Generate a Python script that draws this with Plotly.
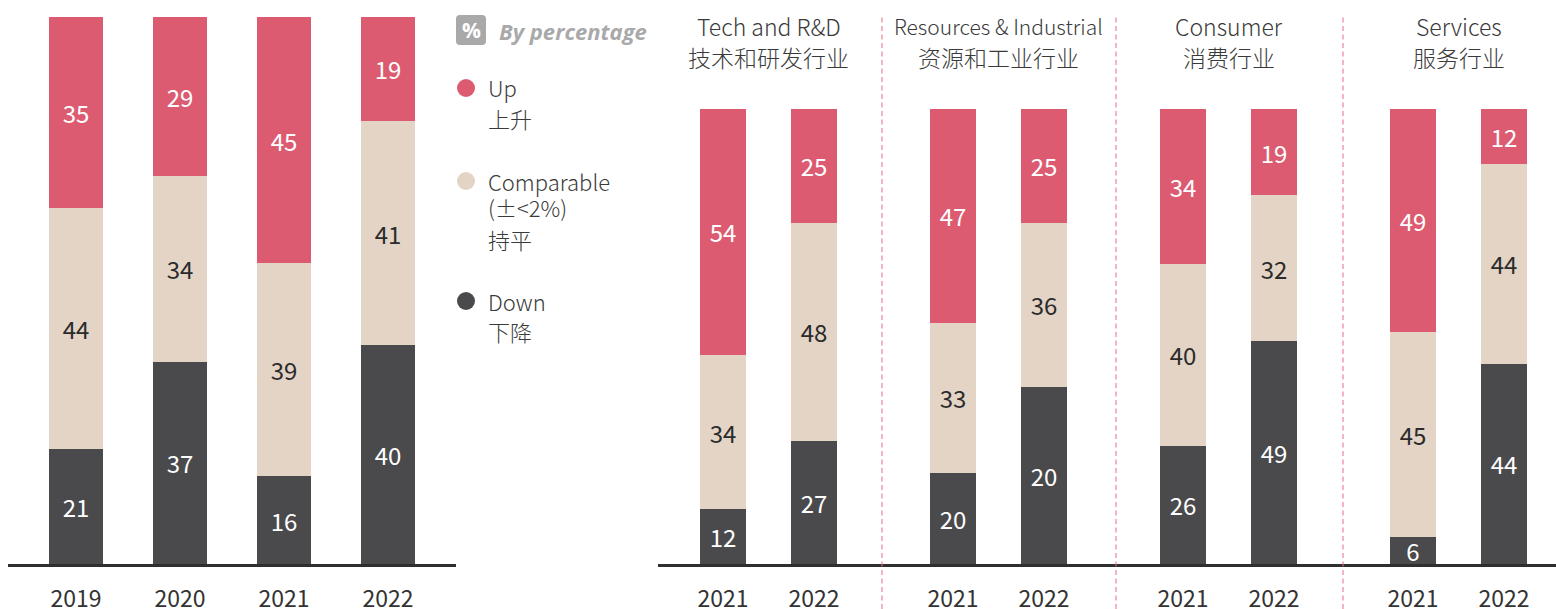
import plotly.graph_objects as go

# ---------------- data ----------------
years_left = ["2019", "2020", "2021", "2022"]
up_left = [35, 29, 45, 19]
comp_left = [44, 34, 39, 41]
down_left = [21, 37, 16, 40]

sectors_en = ["Tech and R&D", "Resources & Industrial", "Consumer", "Services"]
sectors_cn = ["技术和研发行业", "资源和工业行业", "消费行业", "服务行业"]
years_right = ["2021", "2022"]
# per sector: [2021, 2022]
up_right = [[54, 25], [47, 25], [34, 19], [49, 12]]
comp_right = [[34, 48], [33, 36], [40, 32], [45, 44]]
down_right = [[12, 27], [20, 39], [26, 49], [6, 44]]
# labels as printed in the source (Resources 2022 "Down" is printed as 20)
down_right_labels = [["12", "27"], ["20", "20"], ["26", "49"], ["6", "44"]]

legend_items = [("Up", ["上升"]), ("Comparable", ["(±<2%)", "持平"]), ("Down", ["下降"])]

# ---------------- style ----------------
C_UP = "#DC5B70"
C_COMP = "#E3D4C6"
C_DOWN = "#4A4A4C"
FONT = "Noto Sans CJK SC"
W, H = 1556, 609


def px_x(p):
    return p / W


def px_y(p):
    return 1 - p / H


fig = go.Figure()

LBL = 24
# left panel
for vals, col, tcol, name in [(down_left, C_DOWN, "white", "Down"),
                              (comp_left, C_COMP, "#2b2b2b", "Comparable"),
                              (up_left, C_UP, "white", "Up")]:
    fig.add_trace(go.Bar(
        x=years_left, y=vals, marker=dict(color=col, line=dict(width=0)),
        width=0.51, text=[str(v) for v in vals], textposition="inside",
        insidetextanchor="middle", constraintext="none", textangle=0,
        textfont=dict(color=tcol, size=LBL, family=FONT),
        xaxis="x", yaxis="y", showlegend=False, name=name, hoverinfo="skip"))

# right panel: numeric positions
GROUP_STEP = 230
BAR_STEP = 91
xs, tick_text = [], []
for g in range(len(sectors_en)):
    for i in range(len(years_right)):
        xs.append(g * GROUP_STEP + i * BAR_STEP)
        tick_text.append(years_right[i])


def flat(a):
    return [v for row in a for v in row]


for vals, labels, col, tcol, name in [
        (flat(down_right), flat(down_right_labels), C_DOWN, "white", "Down"),
        (flat(comp_right), [str(v) for v in flat(comp_right)], C_COMP, "#2b2b2b", "Comparable"),
        (flat(up_right), [str(v) for v in flat(up_right)], C_UP, "white", "Up")]:
    fig.add_trace(go.Bar(
        x=xs, y=vals, marker=dict(color=col, line=dict(width=0)),
        width=46, text=labels, textposition="inside",
        insidetextanchor="middle", constraintext="none", textangle=0,
        textfont=dict(color=tcol, size=LBL, family=FONT),
        xaxis="x2", yaxis="y2", showlegend=False, name=name, hoverinfo="skip"))

AX_Y = 564
common_x = dict(showgrid=False, zeroline=False, showline=True, linecolor="#2f2f2f",
                linewidth=2.5, ticks="", tickfont=dict(size=23, color="#333", family=FONT),
                ticklabelstandoff=13, fixedrange=True, automargin=False)
common_y = dict(showgrid=False, zeroline=False, showticklabels=False, showline=False,
                range=[0, 100], fixedrange=True)

fig.update_layout(
    width=W, height=H, margin=dict(l=0, r=0, t=0, b=0, pad=0),
    paper_bgcolor="white", plot_bgcolor="white", barmode="stack",
    font=dict(family=FONT, color="#444"),
    xaxis=dict(domain=[px_x(8), px_x(456)], range=[(8 - 76) / 104, (456 - 76) / 104],
               type="category", **common_x),
    yaxis=dict(domain=[px_y(AX_Y), px_y(17)], anchor="x", **common_y),
    xaxis2=dict(domain=[px_x(658), 1.0], range=[658 - 723, 1556 - 723],
                tickvals=xs, ticktext=tick_text, anchor="y2", **common_x),
    yaxis2=dict(domain=[px_y(AX_Y), px_y(109)], anchor="x2", **common_y),
)

shapes = []
annotations = []

# divider lines
for xp in [882, 1116, 1343]:
    shapes.append(dict(type="line", xref="paper", yref="paper",
                       x0=px_x(xp), x1=px_x(xp), y0=0, y1=px_y(15),
                       line=dict(color="#EB6A80", width=1, dash="5px,3.5px")))

HDR = 23
# sector headers
for g in range(len(sectors_en)):
    cx = 723 + g * GROUP_STEP + BAR_STEP / 2
    en_size = 21 if len(sectors_en[g]) > 16 else HDR
    annotations.append(dict(xref="paper", yref="paper", x=px_x(cx), y=px_y(26),
                            text=sectors_en[g], showarrow=False, xanchor="center", yanchor="middle",
                            font=dict(size=en_size, color="#3a3a3a", family=FONT, weight=300)))
    annotations.append(dict(xref="paper", yref="paper", x=px_x(cx), y=px_y(57.5),
                            text=sectors_cn[g], showarrow=False, xanchor="center", yanchor="middle",
                            font=dict(size=HDR, color="#3a3a3a", family=FONT, weight=300)))

# legend header: rounded grey box with "%"
x0, x1, y0, y1, rr = 456, 486, 15, 45, 4
path = (f"M {px_x(x0 + rr)},{px_y(y0)} L {px_x(x1 - rr)},{px_y(y0)} "
        f"Q {px_x(x1)},{px_y(y0)} {px_x(x1)},{px_y(y0 + rr)} "
        f"L {px_x(x1)},{px_y(y1 - rr)} Q {px_x(x1)},{px_y(y1)} {px_x(x1 - rr)},{px_y(y1)} "
        f"L {px_x(x0 + rr)},{px_y(y1)} Q {px_x(x0)},{px_y(y1)} {px_x(x0)},{px_y(y1 - rr)} "
        f"L {px_x(x0)},{px_y(y0 + rr)} Q {px_x(x0)},{px_y(y0)} {px_x(x0 + rr)},{px_y(y0)} Z")
shapes.append(dict(type="path", xref="paper", yref="paper", path=path,
                   fillcolor="#A9A9AA", line=dict(width=0)))
annotations.append(dict(xref="paper", yref="paper", x=px_x(471), y=px_y(30.5),
                        text="<b>%</b>", showarrow=False, xanchor="center", yanchor="middle",
                        font=dict(size=21, color="white", family="Open Sans")))
annotations.append(dict(xref="paper", yref="paper", x=px_x(497), y=px_y(31),
                        text="<b><i>By percentage</i></b>", showarrow=False, xanchor="left",
                        yanchor="middle", font=dict(size=22, color="#A9A9AA", family="Open Sans")))

LEG = 22
leg_y = [86.5, 180.5, 300.5]
sub_y = [[117.5], [207.5, 238.5], [331.5]]
leg_colors = [C_UP, C_COMP, C_DOWN]
circle_y = [88, 181, 301]
for (label, sub), ly, sys_, cy, col in zip(legend_items, leg_y, sub_y, circle_y, leg_colors):
    r = 9
    shapes.append(dict(type="circle", xref="paper", yref="paper",
                       x0=px_x(466 - r), x1=px_x(466 + r), y0=px_y(cy + r), y1=px_y(cy - r),
                       fillcolor=col, line=dict(width=0)))
    annotations.append(dict(xref="paper", yref="paper", x=px_x(486), y=px_y(ly),
                            text=label, showarrow=False, xanchor="left", yanchor="middle",
                            font=dict(size=LEG, color="#3a3a3a", family=FONT, weight=300)))
    for s, sy in zip(sub, sys_):
        annotations.append(dict(xref="paper", yref="paper", x=px_x(486), y=px_y(sy),
                                text=s, showarrow=False, xanchor="left", yanchor="middle",
                                font=dict(size=LEG, color="#3a3a3a", family=FONT, weight=300)))

fig.update_layout(shapes=shapes, annotations=annotations)
fig.write_html("out.html", config={"displayModeBar": False},
               post_script="document.body.style.margin='0';document.body.style.overflow='hidden';")
